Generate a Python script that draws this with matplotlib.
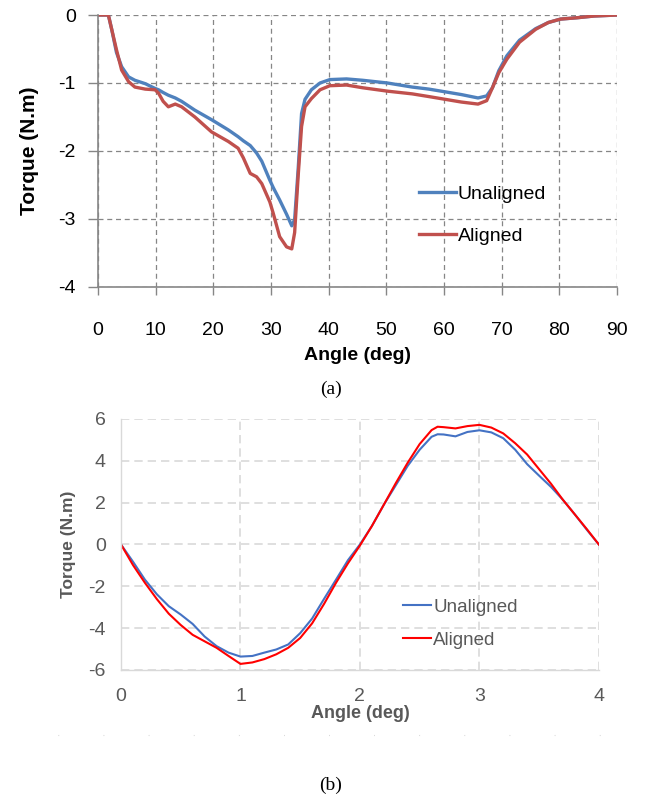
import matplotlib
matplotlib.use('Agg')
import matplotlib.pyplot as plt
from matplotlib.lines import Line2D

plt.rcParams['font.family'] = ['Liberation Sans', 'DejaVu Sans']
plt.rcParams['axes.unicode_minus'] = False

# (a) static torque, 0-90 deg
angle_a = [0, 1.8, 2.4, 3.2, 4.1, 5.3, 6.4, 8.2, 9.9, 10.5, 11.3, 12.2, 13.4, 14.5, 16.8,
           19.7, 22.6, 24.3, 25.2, 26.4, 27.5, 28.4, 29.8, 30.4, 31.5, 32.7, 33.6, 34.1,
           34.7, 35.3, 35.9, 37.0, 38.5, 40.2, 43.1, 45.9, 50.2, 54.5, 57.4, 60.2, 63,
           65.9, 67.4, 68.4, 69.5, 70.9, 73.1, 75.9, 78.1, 80.2, 83.1, 86, 90]
unaligned_a = [0, 0, -0.22, -0.55, -0.76, -0.91, -0.96, -1.01, -1.08, -1.1, -1.14, -1.18,
               -1.22, -1.27, -1.40, -1.54, -1.69, -1.79, -1.85, -1.92, -2.03, -2.15, -2.43,
               -2.54, -2.72, -2.93, -3.1, -3.01, -2.28, -1.45, -1.24, -1.1, -1.0, -0.95,
               -0.94, -0.96, -1.0, -1.06, -1.09, -1.13, -1.17, -1.22, -1.19, -1.07, -0.82,
               -0.6, -0.37, -0.2, -0.11, -0.06, -0.04, -0.015, 0]
aligned_a = [0, 0, -0.22, -0.51, -0.81, -0.98, -1.06, -1.09, -1.1, -1.15, -1.27, -1.35,
             -1.31, -1.35, -1.5, -1.72, -1.86, -1.96, -2.1, -2.33, -2.38, -2.48, -2.75,
             -2.92, -3.26, -3.41, -3.44, -3.2, -2.38, -1.64, -1.35, -1.23, -1.1, -1.04,
             -1.03, -1.07, -1.12, -1.16, -1.2, -1.24, -1.28, -1.31, -1.26, -1.07, -0.85,
             -0.65, -0.4, -0.21, -0.11, -0.06, -0.04, -0.015, 0]

# (b) small-angle torque, 0-4 deg
angle_b = [0, 0.1, 0.2, 0.3, 0.4, 0.5, 0.6, 0.7, 0.8, 0.9, 1.0, 1.1, 1.2, 1.3, 1.4, 1.5,
           1.6, 1.7, 1.8, 1.9, 2.0, 2.1, 2.2, 2.3, 2.4, 2.5, 2.6, 2.65, 2.7, 2.8, 2.9, 3.0,
           3.1, 3.2, 3.3, 3.4, 3.5, 3.6, 3.7, 3.8, 3.9, 4.0]
unaligned_b = [0, -0.82, -1.68, -2.38, -2.95, -3.35, -3.8, -4.4, -4.86, -5.17, -5.36, -5.33,
               -5.17, -5.02, -4.78, -4.24, -3.54, -2.6, -1.68, -0.75, 0, 0.88, 1.9, 2.83,
               3.76, 4.53, 5.15, 5.27, 5.26, 5.17, 5.38, 5.46, 5.36, 5.08, 4.53, 3.84, 3.29,
               2.75, 2.13, 1.43, 0.7, 0]
aligned_b = [0, -0.98, -1.83, -2.61, -3.31, -3.85, -4.32, -4.63, -4.94, -5.33, -5.71, -5.64,
             -5.48, -5.25, -4.94, -4.47, -3.77, -2.84, -1.83, -0.9, -0.05, 0.88, 1.9, 2.93,
             3.91, 4.8, 5.47, 5.63, 5.61, 5.55, 5.66, 5.72, 5.59, 5.31, 4.84, 4.3, 3.6, 2.9,
             2.13, 1.43, 0.73, 0]

fig = plt.figure(figsize=(6.46, 8.07), dpi=100)

# ---- chart (a)
ax1 = fig.add_axes([0.1517, 0.6444, 0.8034, 0.337])
ax1.plot(angle_a, unaligned_a, color='#4F81BD', lw=2.4, label='Unaligned',
         solid_joinstyle='round')
ax1.plot(angle_a, aligned_a, color='#C0504D', lw=2.4, label='Aligned',
         solid_joinstyle='round')
ax1.set_xlim(0, 90)
ax1.set_ylim(-4, 0)
ax1.set_xticks(range(0, 91, 10))
ax1.set_yticks(range(-4, 1))
ax1.grid(True, color='#868686', ls=(0, (4, 3)), lw=0.9)
for s in ['top', 'right']:
    ax1.spines[s].set_visible(False)
for s in ['left', 'bottom']:
    ax1.spines[s].set_color('#868686')
    ax1.spines[s].set_linewidth(1.2)
ax1.tick_params(axis='x', length=6, width=1, color='#868686', pad=19, labelsize=14)
ax1.tick_params(axis='y', length=7, width=1, color='#868686', pad=9, labelsize=14)
ax1.set_xlabel('Angle (deg)', fontsize=14, fontweight='bold', labelpad=6)
ax1.set_ylabel('Torque (N.m)', fontsize=15, fontweight='bold', labelpad=14)
ax1.legend(loc='center left', bbox_to_anchor=(0.585, 0.265), frameon=False, fontsize=14,
           handlelength=1.9, handletextpad=0.1, labelspacing=1.25)
fig.text(0.512, 0.517, '(a)', ha='center', va='center', fontsize=14,
         family='Liberation Serif')

# ---- chart (b)
gray = '#595959'
ax2 = fig.add_axes([0.1873, 0.1698, 0.7397, 0.311])
ax2.plot(angle_b, unaligned_b, color='#4472C4', lw=1.5, label='Unaligned',
         solid_joinstyle='round')
ax2.plot(angle_b, aligned_b, color='#FF0000', lw=1.5, label='Aligned',
         solid_joinstyle='round')
ax2.set_xlim(0, 4)
ax2.set_ylim(-6, 6)
ax2.set_xticks(range(0, 5))
ax2.set_yticks(range(-6, 7, 2))
ax2.grid(True, color='#D9D9D9', ls=(0, (5, 3)), lw=1.2)
for s in ['top', 'right']:
    ax2.spines[s].set_visible(False)
for s in ['left', 'bottom']:
    ax2.spines[s].set_color('#D9D9D9')
    ax2.spines[s].set_linewidth(1.0)
ax2.tick_params(length=0, labelsize=14, labelcolor=gray, pad=13)
ax2.tick_params(axis='y', pad=11)
ax2.set_xlabel('Angle (deg)', fontsize=13, fontweight='bold', color=gray, labelpad=0)
ax2.set_ylabel('Torque (N.m)', fontsize=12.5, fontweight='bold', color=gray, labelpad=9)
leg = ax2.legend(loc='center left', bbox_to_anchor=(0.555, 0.185), frameon=False,
                 fontsize=13.5, handlelength=1.5, handletextpad=0.1, labelspacing=0.85)
for t in leg.get_texts():
    t.set_color(gray)

# faint dotted rule under chart (b)
fig.add_artist(Line2D([0.09, 0.93], [0.089, 0.089], transform=fig.transFigure,
                      color='#C8C8C8', lw=0.8, ls=(0, (0.6, 40))))
fig.text(0.512, 0.027, '(b)', ha='center', va='center', fontsize=14,
         family='Liberation Serif')

fig.savefig('out.png', dpi=100)
